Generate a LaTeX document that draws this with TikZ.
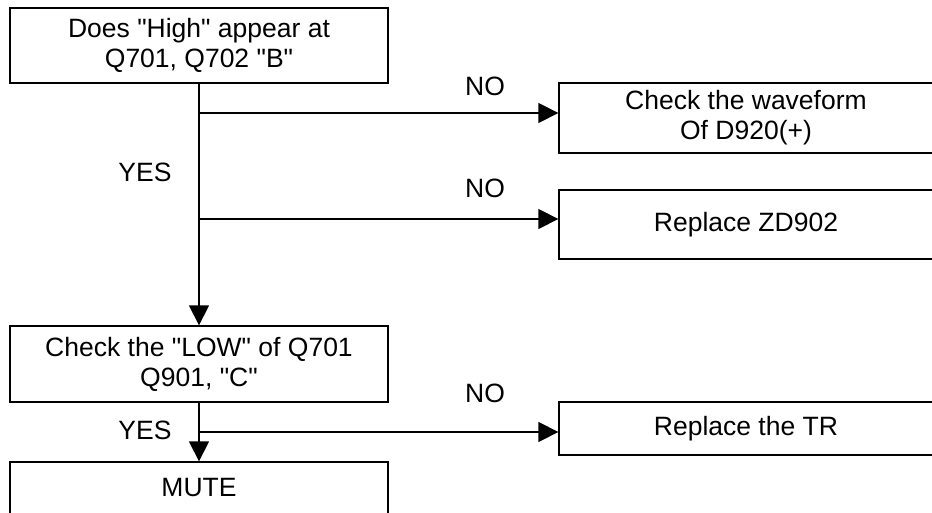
\documentclass[tikz,border=0pt]{standalone}
\usepackage{fontspec}
\setmainfont{Liberation Sans}
\usepackage{tikz}
\usetikzlibrary{arrows.meta, positioning, calc}

\begin{document}
\begin{tikzpicture}[
    x=1pt, y=-1pt,
    box/.style={rectangle, draw, line width=1.3pt, minimum width=378pt, align=center, inner sep=0pt, font=\fontsize{26.5}{30}\selectfont},
    sidebox/.style={box, minimum width=374pt},
    arrow/.style={-{Triangle[length=20pt, width=20pt]}, line width=1.3pt},
    answer/.style={font=\fontsize{26.5}{30}\selectfont, inner sep=0pt}
]
\useasboundingbox (0,0) rectangle (932,513);
\clip (0,0) rectangle (932,513);

% main column
\node[box, minimum height=75pt] (high) at (199,45.5) {Does \textquotedbl High\textquotedbl{} appear at\\Q701, Q702 \textquotedbl B\textquotedbl};
\node[box, minimum height=76pt] (low) at (199,364) {Check the \textquotedbl LOW\textquotedbl{} of Q701\\Q901, \textquotedbl C\textquotedbl};
\node[box, minimum height=52pt] (mute) at (199,488) {MUTE};

% NO branches
\node[sidebox, minimum height=70pt] (wave) at (746,118) {Check the waveform\\Of D920(+)};
\node[sidebox, minimum height=69pt] (zd) at (746,224.5) {Replace ZD902};
\node[sidebox, minimum height=53pt] (tr) at (746,428.5) {Replace the TR};

\coordinate (j1) at (200,113);
\coordinate (j2) at (200,219);
\coordinate (j3) at (200,432);

\draw[arrow] (high.south) -- (low.north);
\draw[arrow] (low.south) -- (mute.north);
\draw[arrow] (j1) -- (j1 -| wave.west);
\draw[arrow] (j2) -- (j2 -| zd.west);
\draw[arrow] (j3) -- (j3 -| tr.west);

\node[answer] (no1) at (485,86) {NO};
\node[answer] (no2) at (485,188) {NO};
\node[answer] (no3) at (485,393) {NO};
\node[answer] (yes1) at (145,172) {YES};
\node[answer] (yes2) at (145,430) {YES};

\end{tikzpicture}
\end{document}
